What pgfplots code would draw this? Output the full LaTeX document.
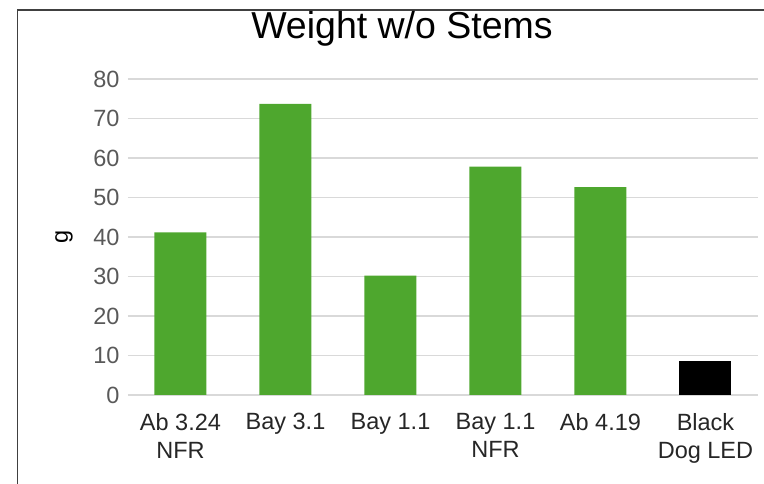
\documentclass[border=0pt]{standalone}
\usepackage{fontspec}
\setmainfont{Liberation Sans}
\usepackage{pgfplots}
\pgfplotsset{compat=1.18}
\definecolor{bargreen}{HTML}{4EA72E}
\definecolor{gridgray}{HTML}{D9D9D9}
\definecolor{tickgray}{HTML}{595959}
\definecolor{labelgray}{HTML}{262626}
\definecolor{framegray}{HTML}{404040}
\begin{document}
\begin{tikzpicture}[x=1pt,y=1pt]
\path[use as bounding box] (0,0) rectangle (764,484);
\draw[framegray, line width=1.3pt] (17.5,-2) -- (17.5,474) -- (766,474);
\node[anchor=base, font=\fontsize{37.5}{42}\selectfont] at (402,445) {Weight w/o Stems};
\begin{axis}[
  at={(128pt,89pt)}, anchor=south west,
  scale only axis, width=630pt, height=316pt,
  xmin=-0.5, xmax=5.5, ymin=0, ymax=80,
  ytick={0,10,...,80},
  xtick={0,1,2,3,4,5},
  xticklabels={{Ab 3.24\\NFR},{Bay 3.1},{Bay 1.1},{Bay 1.1\\NFR},{Ab 4.19},{Black\\Dog LED}},
  ymajorgrids, major grid style={gridgray, line width=1.3pt},
  axis line style={draw=none},
  major tick length=0pt,
  /pgf/number format/assume math mode=true,
  yticklabel style={font=\fontsize{23.5}{27}\selectfont, text=tickgray, xshift=-5pt},
  xticklabel style={font=\fontsize{23.5}{28}\selectfont, text=labelgray, align=center, anchor=north, yshift=-15pt},
  ylabel={g},
  every axis y label/.style={at={(rel axis cs:0,0.5)}, xshift=-64pt, rotate=90, anchor=center, font=\fontsize{23.5}{27}\selectfont},
  clip=false,
]
\addplot[ybar, bar width=52pt, bar shift=0pt, fill=bargreen, draw=none]
  coordinates {(0,41.2) (1,73.7) (2,30.2) (3,57.8) (4,52.6)};
\addplot[ybar, bar width=52pt, bar shift=0pt, fill=black, draw=none]
  coordinates {(5,8.6)};
\end{axis}
\end{tikzpicture}
\end{document}
